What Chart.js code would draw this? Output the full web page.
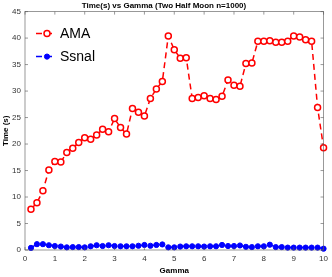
<!DOCTYPE html>
<html>
<head>
<meta charset="utf-8">
<script src="https://cdn.jsdelivr.net/npm/chart.js@4"></script>
<style>
  html, body { margin: 0; padding: 0; background: #fff; }
  #wrap { width: 332px; height: 277px; }
</style>
</head>
<body>
<div id="wrap"><canvas id="timeChart" width="332" height="277"></canvas></div>
<script>
// gamma values on the x axis
const gamma = [0.2, 0.4, 0.6, 0.8, 1.0, 1.2, 1.4, 1.6, 1.8, 2.0,
  2.2, 2.4, 2.6, 2.8, 3.0, 3.2, 3.4, 3.6, 3.8, 4.0,
  4.2, 4.4, 4.6, 4.8, 5.0, 5.2, 5.4, 5.6, 5.8, 6.0,
  6.2, 6.4, 6.6, 6.8, 7.0, 7.2, 7.4, 7.6, 7.8, 8.0,
  8.2, 8.4, 8.6, 8.8, 9.0, 9.2, 9.4, 9.6, 9.8, 10.0]

// time in seconds
const amaTime = [7.7, 8.9, 11.2, 15.1, 16.7, 16.6, 18.4, 19.2, 20.3, 21.2,
  20.9, 21.7, 22.8, 22.3, 24.8, 23.1, 21.9, 26.7, 26.0, 25.3,
  28.6, 30.4, 31.8, 40.4, 37.8, 36.2, 36.3, 28.6, 28.8, 29.1,
  28.6, 28.4, 29.0, 32.1, 31.1, 30.9, 35.2, 35.3, 39.4, 39.4,
  39.5, 39.2, 39.2, 39.4, 40.4, 40.2, 39.7, 39.4, 26.9, 19.3]

const ssnalTime = [0.4, 1.1, 1.1, 0.9, 0.75, 0.65, 0.5, 0.55, 0.55, 0.5,
  0.7, 0.9, 0.75, 0.9, 0.75, 0.7, 0.7, 0.7, 0.8, 0.95,
  0.8, 0.95, 1.05, 0.5, 0.5, 0.65, 0.7, 0.7, 0.7, 0.65,
  0.7, 0.7, 0.95, 0.75, 0.75, 0.85, 0.6, 0.55, 0.7, 0.7,
  1.0, 0.55, 0.55, 0.45, 0.45, 0.45, 0.45, 0.45, 0.45, 0.25]

const seriesNames = ['AMA', 'Ssnal']
const xTicks = [0, 1, 2, 3, 4, 5, 6, 7, 8, 9, 10]
const yTicks = [0, 5, 10, 15, 20, 25, 30, 35, 40, 45]

const toPoints = (ys) => gamma.map((g, i) => ({x: g, y: ys[i]}))

const axisColor = '#262626'
const fontFam = '"Liberation Sans", Arial, Helvetica, sans-serif'

// box around the plot and inward ticks, like matlab
const boxPlugin = {
  id: 'box',
  afterDraw(chart) {
    const {ctx, chartArea: a, scales} = chart
    ctx.save()
    ctx.strokeStyle = '#555'
    ctx.lineWidth = 0.6
    ctx.strokeRect(a.left, a.top, a.right - a.left, a.bottom - a.top)
    const len = 3
    ctx.beginPath()
    xTicks.forEach(t => {
      const px = scales.x.getPixelForValue(t)
      ctx.moveTo(px, a.bottom); ctx.lineTo(px, a.bottom - len)
      ctx.moveTo(px, a.top); ctx.lineTo(px, a.top + len)
    })
    yTicks.forEach(t => {
      const py = scales.y.getPixelForValue(t)
      ctx.moveTo(a.left, py); ctx.lineTo(a.left + len, py)
      ctx.moveTo(a.right, py); ctx.lineTo(a.right - len, py)
    })
    ctx.stroke()
    ctx.restore()
  }
}

// legend inside the top left corner
const legendPlugin = {
  id: 'innerLegend',
  afterDraw(chart) {
    const {ctx, chartArea: a} = chart
    const rows = [a.top + 22, a.top + 45]
    ctx.save()
    chart.data.datasets.forEach((ds, i) => {
      const y = rows[i]
      const x0 = a.left + 11
      ctx.strokeStyle = ds.borderColor
      ctx.lineWidth = 1.5
      ctx.setLineDash(ds.borderDash)
      ctx.beginPath(); ctx.moveTo(x0, y); ctx.lineTo(x0 + 20, y); ctx.stroke()
      ctx.setLineDash([])
      ctx.beginPath()
      ctx.arc(x0 + 11, y, ds.pointRadius, 0, Math.PI * 2)
      ctx.fillStyle = ds.pointBackgroundColor
      ctx.fill()
      ctx.lineWidth = ds.pointBorderWidth
      ctx.strokeStyle = ds.pointBorderColor
      ctx.stroke()
      ctx.fillStyle = '#000'
      ctx.font = '14px ' + fontFam
      ctx.textBaseline = 'middle'
      ctx.fillText(ds.label, x0 + 24, y + 1)
    })
    ctx.restore()
  }
}

const ctx = document.querySelector('#timeChart')
const timeChart = new Chart(ctx, {
  type: 'line',
  data: {
    datasets: [
      {
        label: seriesNames[0],
        data: toPoints(amaTime),
        borderColor: '#ff0000',
        borderWidth: 1.5,
        borderDash: [6, 4],
        pointRadius: 3,
        pointBorderWidth: 1.5,
        pointBorderColor: '#ff0000',
        pointBackgroundColor: '#ffffff',
        clip: false
      },
      {
        label: seriesNames[1],
        data: toPoints(ssnalTime),
        borderColor: '#0000ff',
        borderWidth: 1.5,
        borderDash: [6, 4],
        pointRadius: 2.6,
        pointBorderWidth: 1,
        pointBorderColor: '#0000ff',
        pointBackgroundColor: '#0000ff',
        clip: false
      }
    ]
  },
  options: {
    responsive: false,
    animation: false,
    layout: {padding: {left: 0, right: 4, top: 0, bottom: 0}},
    plugins: {
      legend: {display: false},
      tooltip: {enabled: false},
      title: {
        display: true,
        text: 'Time(s) vs Gamma (Two Half Moon n=1000)',
        color: '#000',
        font: {family: fontFam, size: 8, weight: 'bold'},
        padding: {top: 1, bottom: 1}
      }
    },
    scales: {
      x: {
        type: 'linear',
        min: 0,
        max: 10,
        afterFit: (s) => { s.height = 27 },
        afterBuildTicks: (s) => { s.ticks = xTicks.map(v => ({value: v})) },
        grid: {display: false, drawTicks: false},
        border: {display: false},
        ticks: {color: '#333', padding: 4, font: {family: fontFam, size: 8}, maxRotation: 0},
        title: {display: true, text: 'Gamma', color: '#000',
          font: {family: fontFam, size: 8, weight: 'bold'}, padding: {top: 0, bottom: 1}}
      },
      y: {
        min: 0,
        max: 45,
        afterFit: (s) => { s.width = 25 },
        afterBuildTicks: (s) => { s.ticks = yTicks.map(v => ({value: v})) },
        grid: {display: false, drawTicks: false},
        border: {display: false},
        ticks: {color: '#333', padding: 4, font: {family: fontFam, size: 8}},
        title: {display: true, text: 'Time (s)', color: '#000',
          font: {family: fontFam, size: 8, weight: 'bold'}, padding: {top: 1, bottom: 0}}
      }
    }
  },
  plugins: [boxPlugin, legendPlugin]
})
</script>
</body>
</html>
